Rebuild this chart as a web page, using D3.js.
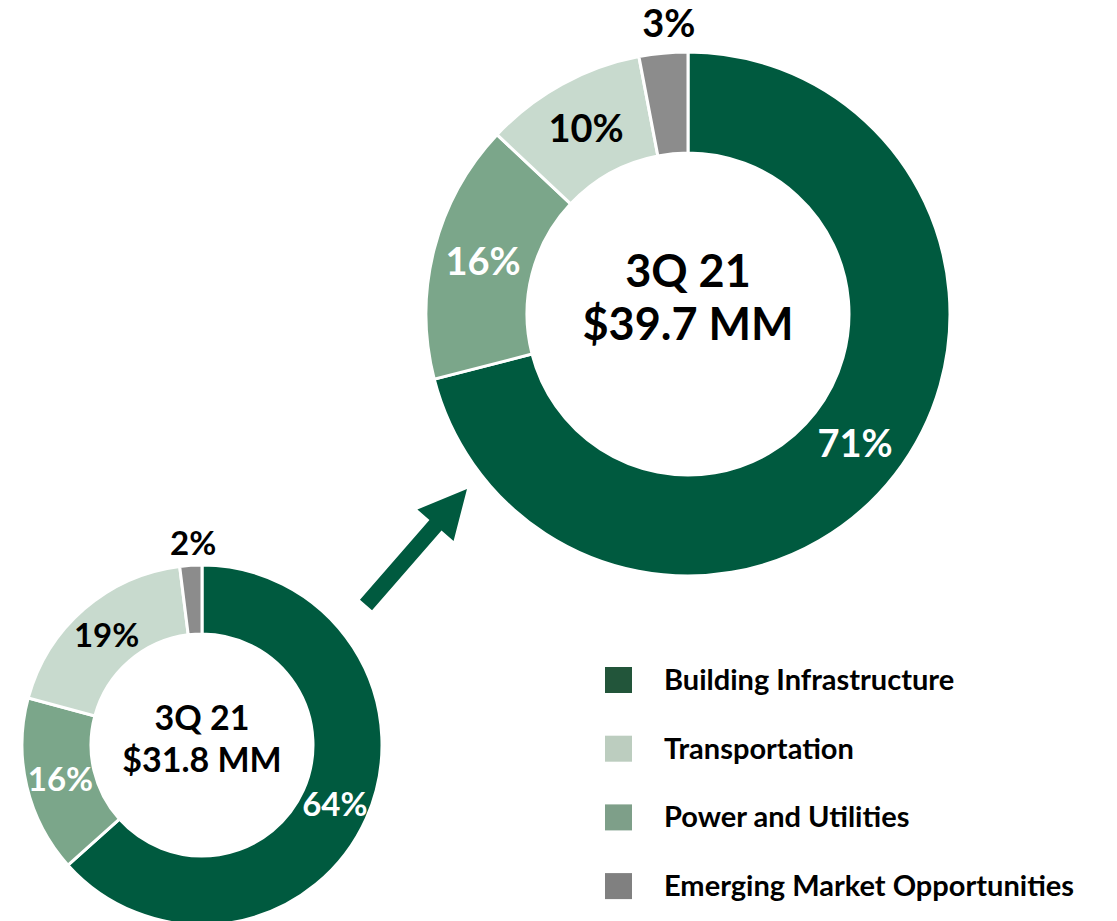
<!DOCTYPE html>
<html lang="en">
  <head>
    <meta charset="UTF-8" />
    <title>Segment mix</title>
    <style>
      body { margin: 0; background: #fff; }
      text { font-family: Lato, "Open Sans", sans-serif; font-weight: 700; }
    </style>
    <script src="https://d3js.org/d3.v7.min.js"></script>
  </head>
  <body>
    <svg width="1117" height="921"></svg>
    <script>
      // slice order, clockwise from 12 o'clock
      var categories = ["Building Infrastructure", "Power and Utilities", "Transportation", "Emerging Market Opportunities"];
      var sliceColors = ["#005a3f", "#7ba68a", "#c8dace", "#8c8c8c"];
      var labelColors = ["#fff", "#fff", "#000", "#000"];

      var bigValues = [71, 16, 10, 3];
      var smallValues = [64, 16, 19, 2];
      var bigTitle = ["3Q 21", "$39.7 MM"];
      var smallTitle = ["3Q 21", "$31.8 MM"];

      var legendOrder = ["Building Infrastructure", "Transportation", "Power and Utilities", "Emerging Market Opportunities"];
      var legendColors = ["#22553a", "#bccdbf", "#7e9f89", "#808080"];

      var svg = d3.select("svg");
      var pie = d3.pie().sort(null).value((d) => d);

      function donut(values, title, o) {
        var g = svg.append("g").attr("transform", "translate(" + o.cx + "," + o.cy + ")");
        var arc = d3.arc().innerRadius(o.r0).outerRadius(o.r1);
        var arcs = pie(values);

        g.selectAll("path")
          .data(arcs)
          .join("path")
          .attr("d", arc)
          .attr("fill", (d, i) => sliceColors[i])
          .attr("stroke", "#fff")
          .attr("stroke-width", 3);

        // small slices get their label outside the ring
        var outer = d3.arc().innerRadius(o.r1 + o.out).outerRadius(o.r1 + o.out);
        g.selectAll("text.pct")
          .data(arcs)
          .join("text")
          .attr("class", "pct")
          .attr("transform", (d) => {
            var c = d.data < 5 ? outer.centroid(d) : arc.centroid(d);
            if (d.data < 5) c[0] *= 0.7;
            return "translate(" + c + ")";
          })
          .attr("text-anchor", "middle")
          .attr("dy", "0.36em")
          .attr("font-size", o.pctSize)
          .attr("fill", (d, i) => (d.data < 5 ? "#000" : labelColors[i]))
          .text((d) => d.data + "%");

        g.selectAll("text.title")
          .data(title)
          .join("text")
          .attr("class", "title")
          .attr("text-anchor", "middle")
          .attr("y", (d, i) => o.titleY[i])
          .attr("font-size", o.titleSize)
          .attr("fill", "#000")
          .text((d) => d);
      }

      donut(bigValues, bigTitle, {
        cx: 688, cy: 314, r0: 161, r1: 262, out: 30,
        pctSize: 38, titleSize: 45, titleY: [-27, 26]
      });
      donut(smallValues, smallTitle, {
        cx: 202, cy: 745, r0: 111, r1: 180, out: 22,
        pctSize: 33, titleSize: 34, titleY: [-15, 27]
      });

      // growth arrow between the two rings
      var arrowFrom = [366, 605], arrowTo = [467, 489];
      var shaftW = 16, headW = 48, headL = 48;
      var ang = Math.atan2(arrowTo[1] - arrowFrom[1], arrowTo[0] - arrowFrom[0]);
      var len = Math.hypot(arrowTo[0] - arrowFrom[0], arrowTo[1] - arrowFrom[1]);
      var shape = [
        [0, -shaftW / 2], [len - headL, -shaftW / 2], [len - headL, -headW / 2],
        [len, 0], [len - headL, headW / 2], [len - headL, shaftW / 2], [0, shaftW / 2]
      ];
      svg.append("path")
        .attr("transform", "translate(" + arrowFrom + ") rotate(" + (ang * 180) / Math.PI + ")")
        .attr("d", d3.line()(shape) + "Z")
        .attr("fill", "#005a3f");

      // legend
      var legend = svg.append("g").attr("transform", "translate(605,667)");
      var rows = legend.selectAll("g")
        .data(legendOrder)
        .join("g")
        .attr("transform", (d, i) => "translate(0," + i * 68.7 + ")");
      rows.append("rect")
        .attr("width", 27)
        .attr("height", 26)
        .attr("fill", (d, i) => legendColors[i]);
      rows.append("text")
        .attr("x", 59)
        .attr("y", 23)
        .attr("font-size", 29)
        .attr("fill", "#000")
        .text((d) => d);
    </script>
  </body>
</html>
